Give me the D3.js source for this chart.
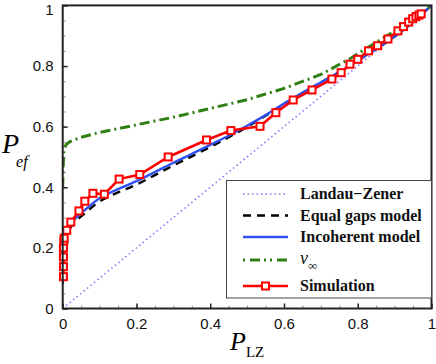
<!DOCTYPE html>
<html>
<head>
<meta charset="utf-8">
<script src="https://cdn.jsdelivr.net/npm/d3@7"></script>
<style>
  html, body { margin: 0; padding: 0; background: #fff; }
  svg { display: block; }
</style>
</head>
<body>
<svg id="chart" width="436" height="364"></svg>
<script>
// ---------------- data ----------------
const tickValues = [0, 0.2, 0.4, 0.6, 0.8, 1];
const tickLabels = ["0", "0.2", "0.4", "0.6", "0.8", "1"];
const minorTickValues = d3.range(0, 1.0001, 0.05);

const lzX = [0, 1];
const lzY = [0, 1];

const incohX = [0, 0.0005, 0.002, 0.005, 0.01, 0.02, 0.035, 0.06, 0.1, 0.12, 0.15, 0.2, 0.25, 0.3, 0.35, 0.4, 0.45, 0.5, 0.55, 0.6, 0.65, 0.7, 0.75, 0.8, 0.85, 0.9, 0.95, 1];
const incohY = [0.09, 0.14, 0.19, 0.225, 0.25, 0.277, 0.298, 0.325, 0.364, 0.377, 0.394, 0.420, 0.450, 0.481, 0.510, 0.540, 0.570, 0.603, 0.638, 0.676, 0.712, 0.746, 0.780, 0.818, 0.856, 0.897, 0.945, 1.0];

const eqgapX = [0, 0.0005, 0.002, 0.005, 0.01, 0.02, 0.035, 0.06, 0.1, 0.12, 0.15, 0.2, 0.25, 0.3, 0.35, 0.4, 0.45, 0.5, 0.55, 0.6, 0.65, 0.7, 0.75, 0.8, 0.85, 0.9, 0.95, 1];
const eqgapY = [0.08, 0.13, 0.18, 0.212, 0.238, 0.265, 0.287, 0.314, 0.353, 0.366, 0.383, 0.409, 0.440, 0.472, 0.502, 0.533, 0.565, 0.599, 0.636, 0.675, 0.711, 0.746, 0.780, 0.818, 0.856, 0.897, 0.945, 1.0];

const vinfX = [0, 0.001, 0.003, 0.006, 0.01, 0.02, 0.05, 0.1, 0.2, 0.3, 0.4, 0.5, 0.6, 0.7, 0.78, 0.85, 0.9, 0.95, 1];
const vinfY = [0.40, 0.46, 0.515, 0.532, 0.542, 0.551, 0.565, 0.581, 0.606, 0.631, 0.660, 0.689, 0.726, 0.772, 0.825, 0.878, 0.915, 0.955, 1.0];

const simX = [0.002, 0.002, 0.002, 0.002, 0.003, 0.004, 0.011, 0.022, 0.044, 0.060, 0.082, 0.113, 0.153, 0.209, 0.286, 0.390, 0.456, 0.535, 0.578, 0.625, 0.676, 0.730, 0.755, 0.779, 0.800, 0.829, 0.854, 0.882, 0.909, 0.924, 0.938, 0.949, 0.958, 0.966, 0.972];
const simY = [0.105, 0.138, 0.170, 0.200, 0.223, 0.232, 0.258, 0.285, 0.322, 0.354, 0.380, 0.377, 0.427, 0.442, 0.500, 0.556, 0.587, 0.601, 0.646, 0.688, 0.721, 0.757, 0.778, 0.806, 0.822, 0.850, 0.867, 0.889, 0.916, 0.930, 0.945, 0.956, 0.963, 0.968, 0.972];

const legendNames = ["Landau\u2212Zener", "Equal gaps model", "Incoherent model", "v\u221E", "Simulation"];

// ---------------- drawing ----------------
const svg = d3.select("#chart");
const x = d3.scaleLinear().domain([0, 1]).range([62.7, 431.5]);
const y = d3.scaleLinear().domain([0, 1]).range([308.5, 5.4]);

const zip = (xs, ys) => xs.map((v, i) => [v, ys[i]]);
const line = d3.line().x(d => x(d[0])).y(d => y(d[1]));
const smooth = d3.line().x(d => x(d[0])).y(d => y(d[1])).curve(d3.curveMonotoneX);

const colors = {
  lz: "#9a6cff",
  eq: "#000000",
  inc: "#3050f0",
  vinf: "#2f7f12",
  sim: "#ff0000"
};

// minor ticks
svg.append("g").attr("transform", `translate(0,${y(0)})`)
  .call(d3.axisBottom(x).tickValues(minorTickValues).tickSizeInner(-3).tickSizeOuter(0).tickFormat(""))
  .call(g => g.select(".domain").remove())
  .call(g => g.selectAll("line").attr("stroke", "#777").attr("stroke-width", 0.8));
svg.append("g").attr("transform", `translate(${x(0)},0)`)
  .call(d3.axisLeft(y).tickValues(minorTickValues).tickSizeInner(-3).tickSizeOuter(0).tickFormat(""))
  .call(g => g.select(".domain").remove())
  .call(g => g.selectAll("line").attr("stroke", "#777").attr("stroke-width", 0.8));

// major ticks + labels
const fmt = d => tickLabels[tickValues.indexOf(d)];
svg.append("g").attr("transform", `translate(0,${y(0)})`)
  .call(d3.axisBottom(x).tickValues(tickValues).tickSizeInner(-5).tickSizeOuter(0).tickPadding(10).tickFormat(fmt))
  .call(g => g.select(".domain").remove())
  .call(g => g.selectAll("line").attr("stroke", "#222").attr("stroke-width", 1.5))
  .call(g => g.selectAll("text").attr("font-family", "Liberation Sans, Arial, sans-serif").attr("font-size", 15).attr("fill", "#111"));
svg.append("g").attr("transform", `translate(${x(0)},0)`)
  .call(d3.axisLeft(y).tickValues(tickValues).tickSizeInner(-5).tickSizeOuter(0).tickPadding(9).tickFormat(fmt))
  .call(g => g.select(".domain").remove())
  .call(g => g.selectAll("line").attr("stroke", "#222").attr("stroke-width", 1.5))
  .call(g => g.selectAll("text").attr("font-family", "Liberation Sans, Arial, sans-serif").attr("font-size", 15).attr("fill", "#111")
    .attr("dy", d => d === 1 ? "0.62em" : "0.32em"));

// clip
svg.append("defs").append("clipPath").attr("id", "clip")
  .append("rect").attr("x", x(0)).attr("y", y(1)).attr("width", x(1) - x(0)).attr("height", y(0) - y(1));
const plot = svg.append("g").attr("clip-path", "url(#clip)");

// series
plot.append("path").attr("d", line(zip(lzX, lzY)))
  .attr("fill", "none").attr("stroke", colors.lz).attr("stroke-width", 1.6).attr("stroke-dasharray", "1.5,3");
plot.append("path").attr("d", smooth(zip(eqgapX, eqgapY)))
  .attr("fill", "none").attr("stroke", colors.eq).attr("stroke-width", 2.4).attr("stroke-dasharray", "8,6");
plot.append("path").attr("d", smooth(zip(incohX, incohY)))
  .attr("fill", "none").attr("stroke", colors.inc).attr("stroke-width", 2.4);
plot.append("path").attr("d", line(zip(vinfX, vinfY)))
  .attr("fill", "none").attr("stroke", colors.vinf).attr("stroke-width", 3).attr("stroke-dasharray", "10,4,2,4");

const simData = zip(simX, simY);
plot.append("path").attr("d", line(simData))
  .attr("fill", "none").attr("stroke", colors.sim).attr("stroke-width", 2.6);
svg.append("g").selectAll("rect").data(simData).join("rect")
  .attr("x", d => x(d[0]) - 3.5).attr("y", d => y(d[1]) - 3.5)
  .attr("width", 7).attr("height", 7)
  .attr("fill", "#fff").attr("stroke", colors.sim).attr("stroke-width", 2);

// frame
svg.append("rect").attr("x", x(0)).attr("y", y(1)).attr("width", x(1) - x(0)).attr("height", y(0) - y(1))
  .attr("fill", "none").attr("stroke", "#222").attr("stroke-width", 2);

// axis titles
const yt = svg.append("text").attr("x", 2).attr("y", 153)
  .attr("font-family", "Liberation Serif, Times New Roman, serif").attr("font-style", "italic");
yt.append("tspan").attr("font-size", 28).text("P");
yt.append("tspan").attr("font-size", 16).attr("dy", 14).attr("dx", -3).text("ef");

const xt = svg.append("text").attr("x", 230).attr("y", 350)
  .attr("font-family", "Liberation Serif, Times New Roman, serif");
xt.append("tspan").attr("font-size", 26).attr("font-style", "italic").text("P");
xt.append("tspan").attr("font-size", 15).attr("dy", 7).text("LZ");

// legend
const lg = svg.append("g");
lg.append("rect").attr("x", 226.5).attr("y", 180.5).attr("width", 205).attr("height", 117.5)
  .attr("fill", "#fff").attr("stroke", "#444").attr("stroke-width", 1);
const rowY = [194, 215.5, 237, 260, 286];
const styles = [
  { c: colors.lz, w: 1.6, dash: "1.5,3" },
  { c: colors.eq, w: 2.4, dash: "8,6" },
  { c: colors.inc, w: 2.4, dash: null },
  { c: colors.vinf, w: 3, dash: "2,5,10,4,2,4" },
  { c: colors.sim, w: 2.6, dash: null }
];
legendNames.forEach((name, i) => {
  const ly = rowY[i];
  lg.append("line").attr("x1", 243).attr("x2", 288).attr("y1", ly).attr("y2", ly)
    .attr("stroke", styles[i].c).attr("stroke-width", styles[i].w)
    .attr("stroke-dasharray", styles[i].dash);
  if (i === 4) {
    lg.append("rect").attr("x", 265.5 - 3.5).attr("y", ly - 3.5).attr("width", 7).attr("height", 7)
      .attr("fill", "#fff").attr("stroke", colors.sim).attr("stroke-width", 2);
  }
  const t = lg.append("text").attr("x", 300).attr("y", ly + 5)
    .attr("font-family", "Liberation Serif, Times New Roman, serif").attr("font-weight", "bold")
    .attr("font-size", 16).attr("fill", "#111");
  if (i === 3) {
    t.attr("font-weight", "normal");
    t.append("tspan").attr("font-style", "italic").attr("font-size", 18).attr("dy", -1).text(name[0]);
    t.append("tspan").attr("font-size", 13).attr("dy", 6).attr("dx", 0).text(name.slice(1));
  } else {
    t.text(name);
  }
});
</script>
</body>
</html>
